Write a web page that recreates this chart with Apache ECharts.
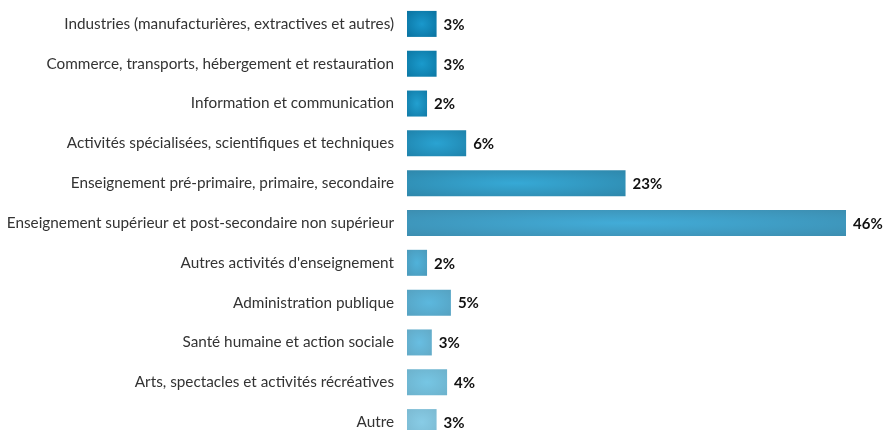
<!DOCTYPE html>
<html>
<head>
<meta charset="utf-8">
<script src="https://cdn.jsdelivr.net/npm/echarts@6/dist/echarts.min.js"></script>
<style>
  html, body { margin: 0; padding: 0; background: #ffffff; }
  #chart { width: 885px; height: 430px; }
</style>
</head>
<body>
<div id="chart"></div>
<script>
var categories = [
    'Industries (manufacturières, extractives et autres)',
    'Commerce, transports, hébergement et restauration',
    'Information et communication',
    'Activités spécialisées, scientifiques et techniques',
    'Enseignement pré-primaire, primaire, secondaire',
    'Enseignement supérieur et post-secondaire non supérieur',
    "Autres activités d'enseignement",
    'Administration publique',
    'Santé humaine et action sociale',
    'Arts, spectacles et activités récréatives',
    'Autre'
];
var values = [3.1, 3.1, 2.1, 6.2, 22.9, 46, 2.1, 4.6, 2.6, 4.2, 3.1];
var edgeColors = ['#086f9c', '#0b75a1', '#1078a4', '#1e80a8', '#2e85a8', '#3c8cae', '#4a98b8', '#55a0bf', '#62a8c4', '#6cb0ca', '#7ab8d0'];
var centerColors = ['#1a98cc', '#1a9acc', '#22a0d0', '#2aa3d2', '#36a9d6', '#42acd8', '#50b2da', '#5cb8de', '#68bee2', '#76c6e4', '#88cce6'];

var myChart = echarts.init(document.getElementById('chart'));

var BAR_H = 26;

function renderBar(params, api) {
    var idx = api.value(1);
    var start = api.coord([0, idx]);
    var end = api.coord([api.value(0), idx]);
    var w = end[0] - start[0];
    var h = BAR_H;
    var label = Math.round(api.value(0)) + '%';
    return {
        type: 'group',
        children: [
            {
                // square with a radial fill, stretched to the bar length
                type: 'rect',
                x: start[0],
                y: start[1],
                scaleX: w / h,
                shape: { x: 0, y: -h / 2, width: h, height: h },
                style: {
                    fill: new echarts.graphic.RadialGradient(0.5, 0.5, 0.75, [
                        { offset: 0, color: centerColors[idx] },
                        { offset: 1, color: edgeColors[idx] }
                    ])
                }
            },
            {
                type: 'text',
                x: end[0] + 7,
                y: end[1] + 1,
                style: {
                    text: label,
                    fill: '#111111',
                    font: 'bold 15px Lato',
                    verticalAlign: 'middle',
                    align: 'left'
                }
            }
        ]
    };
}

var option = {
    animation: false,
    backgroundColor: '#ffffff',
    grid: { left: 407, top: 4, width: 439, height: 438, outerBoundsMode: 'none', containLabel: false },
    xAxis: {
        type: 'value',
        min: 0,
        max: 46,
        show: false
    },
    yAxis: {
        type: 'category',
        data: categories,
        inverse: true,
        axisLine: { show: false },
        axisTick: { show: false },
        splitLine: { show: false },
        axisLabel: {
            margin: 13,
            color: '#333333',
            fontFamily: 'Lato',
            fontSize: 15.3
        }
    },
    series: [{
        type: 'custom',
        renderItem: renderBar,
        encode: { x: 0, y: 1 },
        data: values.map(function (v, i) { return [v, i]; })
    }]
};

myChart.setOption(option);
window.onresize = function () { myChart.resize(); };
</script>
</body>
</html>
